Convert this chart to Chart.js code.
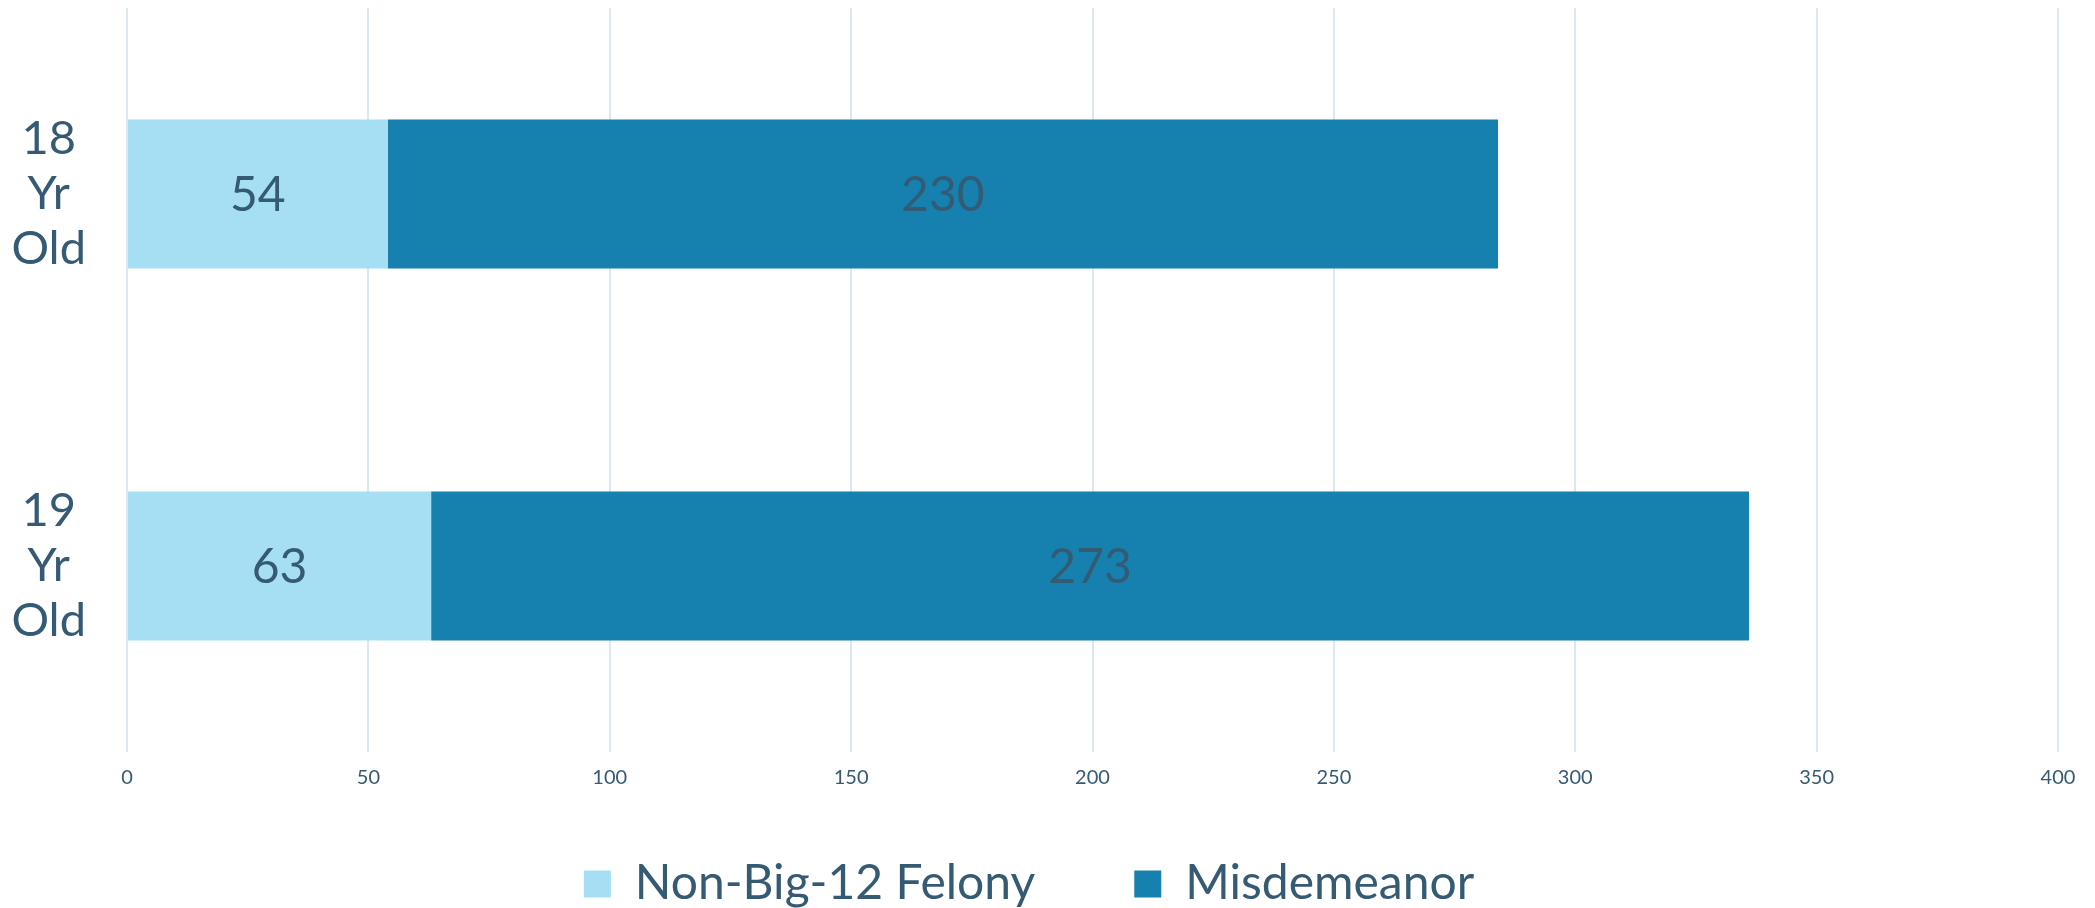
<!DOCTYPE html>
<html>
<head>
<meta charset="utf-8">
<script src="https://cdn.jsdelivr.net/npm/chart.js@4"></script>
<style>
    html, body { margin: 0; padding: 0; background: #fff; }
    #wrap { width: 2095px; height: 908px; position: relative; }
</style>
</head>
<body>
<div id="wrap"><canvas id="ageChart"></canvas></div>
<script>
// data
const categories  = [['18', 'Yr', 'Old'], ['19', 'Yr', 'Old']];
const felonyVals  = [54, 63];
const misdemVals  = [230, 273];
const xTicks      = [0, 50, 100, 150, 200, 250, 300, 350, 400];

const TEXT  = '#345b73';
const FONT  = 'Lato, "Open Sans", sans-serif';

// writes each segment's value in the middle of its bar
const barValues = {
    id: 'barValues',
    afterDatasetsDraw(chart) {
        const ctx = chart.ctx;
        ctx.save();
        ctx.font = '48px ' + FONT;
        ctx.fillStyle = TEXT;
        ctx.textAlign = 'center';
        ctx.textBaseline = 'middle';
        chart.data.datasets.forEach((ds, i) => {
            chart.getDatasetMeta(i).data.forEach((bar, j) => {
                const p = bar.getProps(['x', 'y', 'base'], true);
                ctx.fillText(ds.data[j], (p.x + p.base) / 2, p.y + 2);
            });
        });
        ctx.restore();
    }
};

new Chart(document.getElementById('ageChart'), {
    type: 'bar',
    data: {
        labels: categories,
        datasets: [
            { label: 'Non-Big-12 Felony', data: felonyVals, backgroundColor: '#a6dff3', borderWidth: 0 },
            { label: 'Misdemeanor',       data: misdemVals, backgroundColor: '#1681ae', borderWidth: 0 }
        ]
    },
    options: {
        indexAxis: 'y',
        responsive: true,
        maintainAspectRatio: false,
        animation: false,
        layout: { padding: { top: 8, right: 37, left: 0, bottom: -10 } },
        datasets: { bar: { barPercentage: 0.4, categoryPercentage: 1 } },
        plugins: {
            tooltip: { enabled: false },
            legend: {
                position: 'bottom',
                labels: {
                    color: TEXT,
                    font: { family: FONT, size: 48 },
                    boxWidth: 27,
                    boxHeight: 27,
                    padding: 3,
                    generateLabels(chart) {
                        const items = Chart.defaults.plugins.legend.labels.generateLabels(chart);
                        items[0].text += '\u2003\u2003\u2002';
                        return items;
                    }
                }
            }
        },
        scales: {
            x: {
                stacked: true,
                min: 0,
                max: 400,
                afterBuildTicks: axis => { axis.ticks = xTicks.map(v => ({ value: v })); },
                afterFit: axis => { axis.height = 105; },
                border: { display: false },
                grid: { color: '#dbe8f0', lineWidth: 2, drawTicks: false },
                ticks: { color: TEXT, padding: 14, font: { family: FONT, size: 20 } }
            },
            y: {
                stacked: true,
                afterFit: axis => {
                    axis.width = 127;
                    axis.paddingTop = 0;
                    axis.paddingBottom = 0;
                },
                border: { display: false },
                grid: { display: false, drawTicks: false },
                ticks: {
                    color: TEXT,
                    crossAlign: 'center',
                    padding: 41,
                    font: { family: FONT, size: 47, lineHeight: 1.17 }
                }
            }
        }
    },
    plugins: [barValues]
});
</script>
</body>
</html>
